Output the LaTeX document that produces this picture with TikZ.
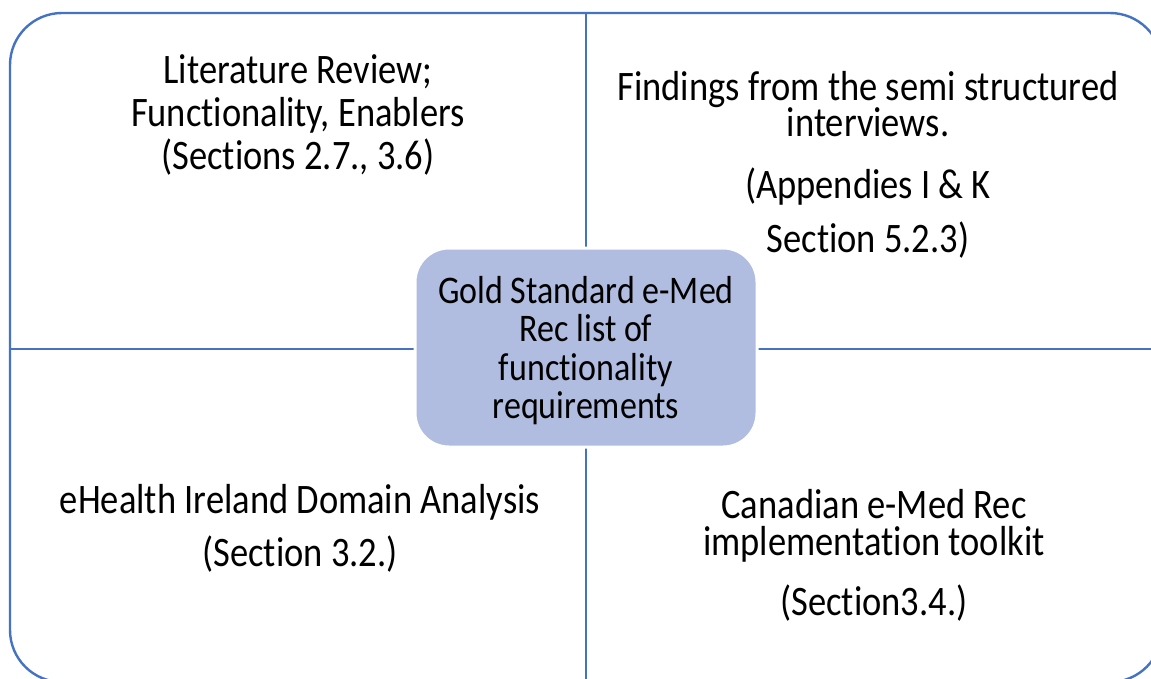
\documentclass[tikz,border=0pt]{standalone}
\usepackage{graphicx}
\usepackage{fontspec}
\setmainfont{Carlito}[Ligatures={NoCommon,NoContextual}]
\definecolor{qline}{RGB}{68,114,196}
\definecolor{cfill}{RGB}{176,189,224}
\newcommand\vstretch[1]{\scalebox{1}[1.15]{#1}}
\newcommand\twolines[2]{\vstretch{\begin{tabular}[t]{@{}c@{}}#1\\[-2pt]#2\end{tabular}}}
\begin{document}
\begin{tikzpicture}[x=1pt,y=-1pt,
  qtext/.style={anchor=base,inner sep=0pt,font=\fontsize{36.5}{30}\selectfont},
  ctext/.style={anchor=base,inner sep=0pt,font=\fontsize{34}{38}\selectfont},
  frame/.style={draw=qline,line width=2.4pt}]
\useasboundingbox (0,0) rectangle (1151,678);
\fill[white] (0,0) rectangle (1151,678);
% quadrant frame
\draw[frame,rounded corners=52pt] (10,13) rectangle (1162,682);
\coordinate (vt) at (586,13);
\coordinate (vb) at (586,682);
\coordinate (hl) at (10,349);
\coordinate (hr) at (1162,349);
\draw[frame] (vt) -- (vb);
\draw[frame] (hl) -- (hr);
% centre box
\node[draw=white,line width=3pt,fill=cfill,rounded corners=34pt,minimum width=342pt,minimum height=199pt,inner sep=0pt] (centre) at (586,347.5) {};
\node[ctext] (c1) at (586,303) {\vstretch{Gold Standard e-Med}};
\node[ctext] (c2) at (586,341) {\vstretch{Rec list of}};
\node[ctext] (c3) at (586,380) {\vstretch{functionality}};
\node[ctext] (c4) at (586,418) {\vstretch{requirements}};
% top-left
\node[qtext] (tl1) at (298,83) {\vstretch{Literature Review;}};
\node[qtext] (tl2) at (298,126) {\vstretch{Functionality, Enablers}};
\node[qtext] (tl3) at (298,169) {\vstretch{(Sections 2.7., 3.6)}};
% top-right
\node[qtext] (tr1) at (868,100) {\twolines{Findings from the semi structured}{interviews.}};
\node[qtext] (tr3) at (868,198) {\vstretch{(Appendies I \& K}};
\node[qtext] (tr4) at (868,252) {\vstretch{Section 5.2.3)}};
% bottom-left
\node[qtext] (bl1) at (300,513) {\vstretch{eHealth Ireland Domain Analysis}};
\node[qtext] (bl2) at (300,566) {\vstretch{(Section 3.2.)}};
% bottom-right
\node[qtext] (br1) at (874,518) {\twolines{Canadian e-Med Rec}{implementation toolkit}};
\node[qtext] (br3) at (874,615) {\vstretch{(Section3.4.)}};
\end{tikzpicture}
\end{document}
